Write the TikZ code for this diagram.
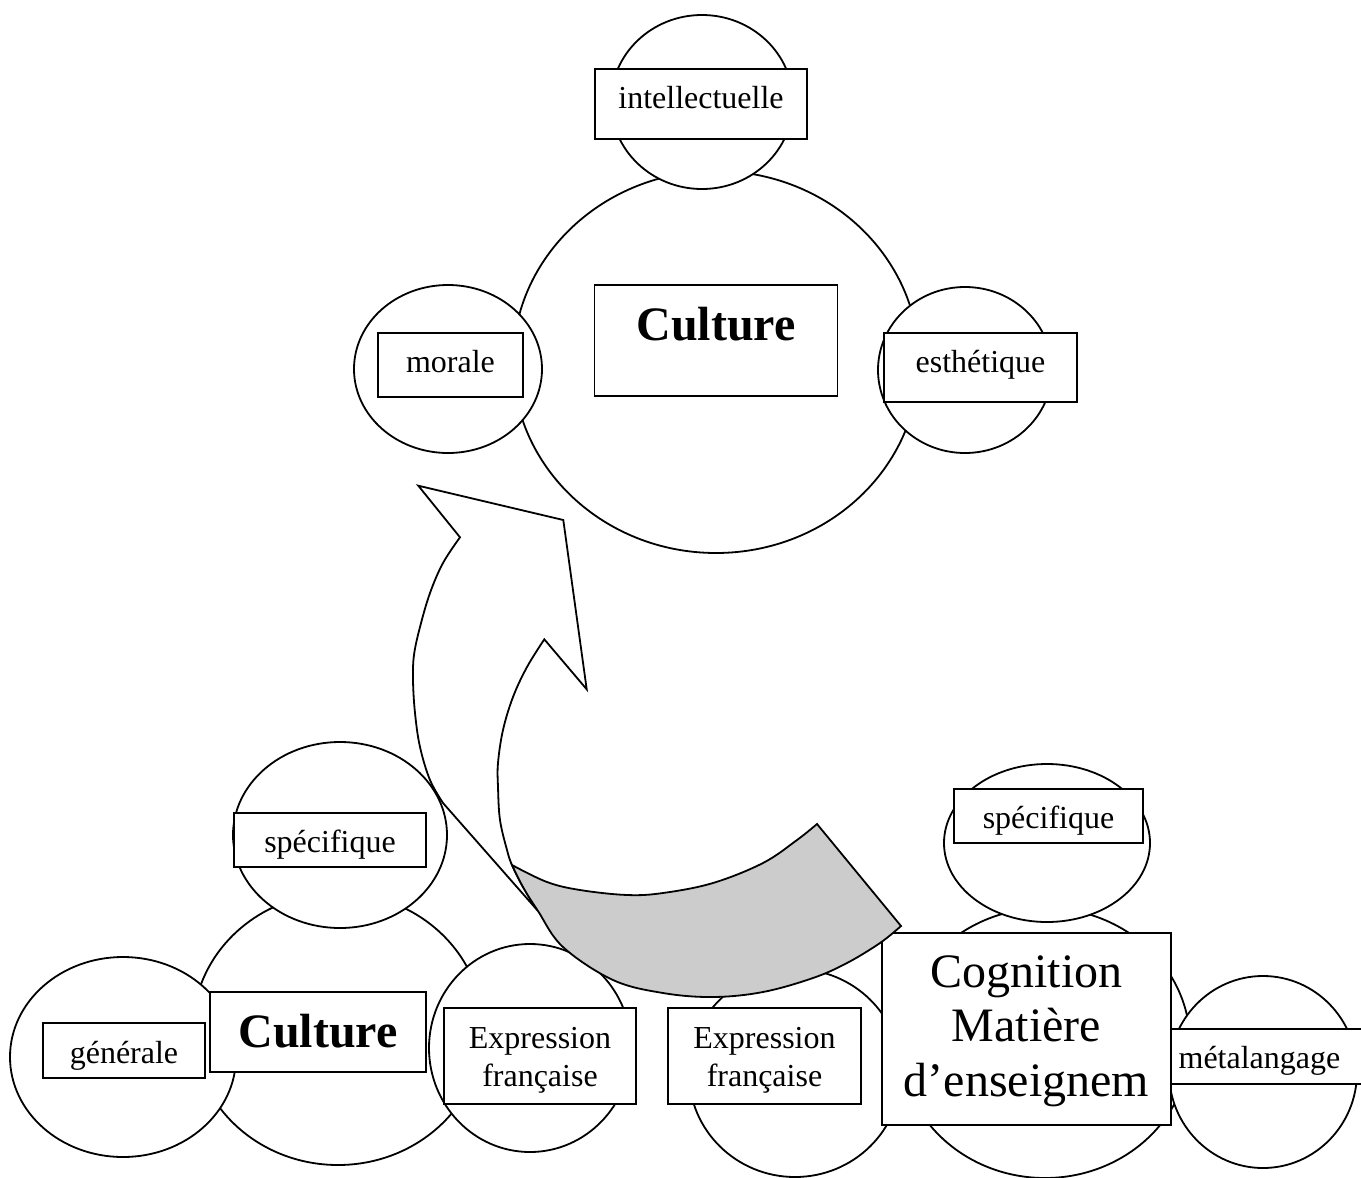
\documentclass[tikz,border=0pt]{standalone}
\usepackage{fontspec}
\setmainfont{Liberation Serif}
\usetikzlibrary{shapes.geometric}
\definecolor{bande}{RGB}{204,204,204}
\tikzset{
  bulle/.style={draw, ellipse, fill=white, inner sep=0pt},
  cadre/.style={draw, rectangle, fill=white, inner xsep=0pt, inner ysep=0pt,
    font=\fontsize{32}{38.5}\selectfont},
  grand/.style={font=\fontsize{48}{54.5}\selectfont},
}
\begin{document}
\begin{tikzpicture}[x=1pt, y=-1pt, line width=1.8pt]
    \useasboundingbox (0,0) rectangle (1361,1178);
    \clip (0,0) rectangle (1361,1178);
    \node[bulle, minimum width=406pt, minimum height=382pt] (cultureH) at (716,362) {};
    \node[bulle, minimum width=290pt, minimum height=272pt] (cultureG) at (338,1029) {};
    \node[bulle, minimum width=290pt, minimum height=270pt] (cognC) at (1045,1043) {};
    \node[bulle, minimum width=182pt, minimum height=174pt] (intelC) at (702,102) {};
    \node[bulle, minimum width=188pt, minimum height=168pt] (moraleC) at (448,369) {};
    \node[bulle, minimum width=174pt, minimum height=166pt] (esthC) at (965,370) {};
    \node[bulle, minimum width=214pt, minimum height=186pt] (specGC) at (340,835) {};
    \node[bulle, minimum width=226pt, minimum height=200pt] (genC) at (123,1057) {};
    \node[bulle, minimum width=202pt, minimum height=208pt] (exprGC) at (530,1048) {};
    \node[bulle, minimum width=206pt, minimum height=158pt] (specDC) at (1047,843) {};
    \node[bulle, minimum width=212pt, minimum height=208pt] (exprDC) at (795,1073) {};
    \node[bulle, minimum width=188pt, minimum height=192pt] (metaC) at (1263,1072) {};

    \node[cadre, minimum width=212pt, text height=39.5pt, text depth=30.5pt] (intel) at (701,104) {intellectuelle};
    \node[cadre, minimum width=145pt, text height=39.5pt, text depth=24.5pt] (morale) at (450.5,365) {morale};
    \node[cadre, grand, minimum width=243pt, text height=55pt, text depth=56pt] (cultH) at (716,340.5) {\textbf{Culture}};
    \node[cadre, minimum width=193pt, text height=39.5pt, text depth=29.5pt] (esth) at (980.5,367.5) {esthétique};
    \node[cadre, minimum width=192pt, text height=39pt, text depth=15pt] (specG) at (330,840) {spécifique};
    \node[cadre, minimum width=162pt, text height=40pt, text depth=15pt] (gen) at (124,1050.5) {générale};
    \node[cadre, grand, minimum width=216pt, text height=55pt, text depth=25pt] (cultG) at (318,1032) {\textbf{Culture}};
    \node[cadre, align=center, minimum width=192pt, text height=78.6pt, text depth=17.4pt] (exprG) at (540,1056) {Expression\\française};
    \node[cadre, minimum width=189pt, text height=39pt, text depth=15pt] (specD) at (1048.5,816) {spécifique};
    \node[cadre, align=center, minimum width=193pt, text height=78.6pt, text depth=17.4pt] (exprD) at (764.5,1056) {Expression\\française};
    \node[cadre, grand, align=center, minimum width=289pt, text height=163pt, text depth=29pt] (cogn) at (1026.5,1029) {Cognition\\Matière\\d’enseignem};
    \node[cadre, anchor=west, align=left, text width=186pt, inner xsep=7.7pt, text height=39pt, text depth=16pt] (meta) at (1170,1056.5) {métalangage};

    \filldraw[fill=white] (544.3,639.3) -- (586.7,689.3) -- (563.3,520) -- (418.3,485.7) -- (460,537.3)
      -- plot[smooth, tension=0.6] coordinates {(460,537.3) (443,563) (430,593) (420,627) (414,655) (413,680) (415,713) (420,747) (430,780) (443,803)}
      -- (538,911)
      -- plot[smooth, tension=0.6] coordinates {(538,911) (523,887) (512,865) (507,850) (500,820) (498,787) (498,763) (503,730) (513,697) (527,667) (544.3,639.3)}
      -- cycle;
    \filldraw[fill=bande] plot[smooth, tension=0.6] coordinates {(512,865) (547,882) (580,890) (627,895) (663,893) (713,883) (763,863) (797,840) (817,824)}
      -- (901,926)
      -- plot[smooth, tension=0.6] coordinates {(901,926) (880,943) (847,963) (813,978) (763,992) (713,997) (663,993) (613,980) (563,947) (538,911) (523,887) (512,865)}
      -- cycle;
\end{tikzpicture}
\end{document}
